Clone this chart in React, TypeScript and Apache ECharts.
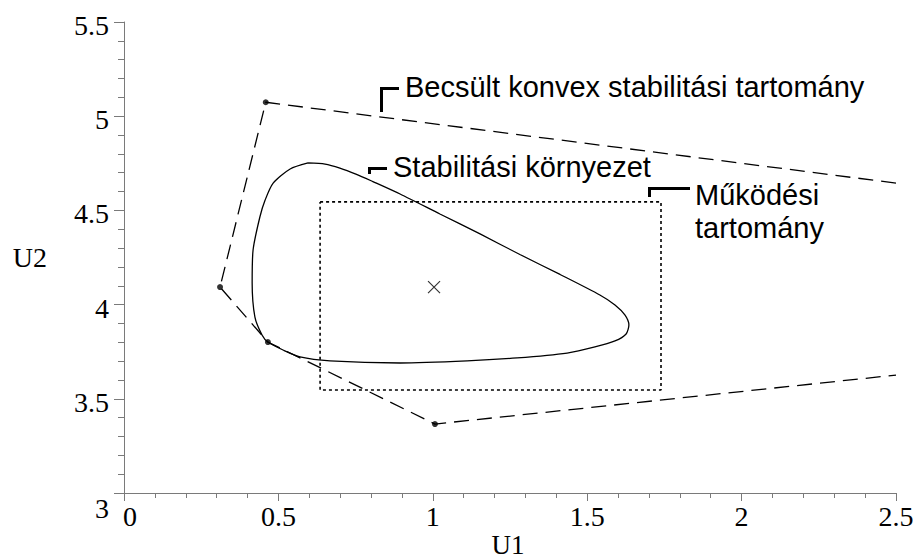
import React, { useEffect, useRef } from "react";
import * as echarts from "echarts";

const xTicks = { min: 0, max: 2.5, interval: 0.5 };
const yTicks = { min: 3, max: 5.5, interval: 0.5 };
const xTitle = "U1";
const yTitle = "U2";

// Estimated convex stability region (dashed polygon)
const hullLine: [number, number][] = [
  [2.5, 4.645],
  [0.459, 5.074],
  [0.311, 4.093],
  [0.466, 3.801],
  [1.007, 3.366],
  [2.5, 3.626],
];
const hullVertices: [number, number][] = [
  [0.459, 5.074],
  [0.311, 4.093],
  [0.466, 3.801],
  [1.007, 3.366],
];

// Stability neighbourhood (closed curve)
const stabilityCurve: [number, number][] = [
  [0.596, 4.752],
  [0.651, 4.746],
  [0.699, 4.725],
  [0.751, 4.693],
  [0.806, 4.653],
  [0.894, 4.587],
  [1.023, 4.481],
  [1.153, 4.375],
  [1.282, 4.266],
  [1.412, 4.16],
  [1.541, 4.051],
  [1.59, 3.998],
  [1.622, 3.945],
  [1.635, 3.892],
  [1.626, 3.844],
  [1.59, 3.807],
  [1.525, 3.775],
  [1.435, 3.743],
  [1.273, 3.717],
  [1.111, 3.701],
  [0.894, 3.69],
  [0.667, 3.701],
  [0.57, 3.722],
  [0.515, 3.759],
  [0.466, 3.801],
  [0.447, 3.839],
  [0.424, 3.934],
  [0.415, 4.115],
  [0.418, 4.29],
  [0.44, 4.465],
  [0.457, 4.555],
  [0.483, 4.645],
  [0.538, 4.72],
  [0.596, 4.752],
];

// Operating range (dotted rectangle)
const opRange: [number, number][] = [
  [0.635, 4.545],
  [1.739, 4.545],
  [1.739, 3.547],
  [0.635, 3.547],
  [0.635, 4.545],
];

const operatingPoint: [number, number][] = [[1.004, 4.093]];

const labelBecsult = "Becsült konvex stabilitási tartomány";
const labelStab = "Stabilitási környezet";
const labelMuk1 = "Működési";
const labelMuk2 = "tartomány";

const SERIF = "'Liberation Serif', 'Times New Roman', serif";
const SANS = "'Liberation Sans', Arial, sans-serif";
const AXIS_GRAY = "#7a7a7a";
const TICK_FS = 28;

export default function App() {
  const ref = useRef<HTMLDivElement>(null);
  useEffect(() => {
    if (!ref.current) return;
    const chart = echarts.init(ref.current, null, { renderer: "svg" });
    const annFont = { fontFamily: SANS, fontSize: 29, fill: "#000" };
    chart.setOption({
      animation: false,
      backgroundColor: "#fff",
      grid: {
        left: 124,
        right: 17,
        top: 22,
        bottom: 67,
        containLabel: false,
        outerBoundsMode: "none",
      },
      xAxis: {
        type: "value",
        min: xTicks.min,
        max: xTicks.max,
        interval: xTicks.interval,
        axisLine: { show: true, onZero: false, lineStyle: { color: AXIS_GRAY, width: 1 } },
        axisTick: { show: true, inside: false, length: 8, lineStyle: { color: AXIS_GRAY } },
        minorTick: { show: true, splitNumber: 5, length: 5, lineStyle: { color: AXIS_GRAY } },
        splitLine: { show: false },
        axisLabel: {
          margin: 9,
          fontFamily: SERIF,
          fontSize: TICK_FS,
          color: "#000",
          formatter: (v: number) => (v === 0 ? "{z|0}" : String(v)),
          rich: { z: { fontFamily: SERIF, fontSize: TICK_FS, color: "#000", padding: [0, 0, 0, 12] } },
        },
      },
      yAxis: {
        type: "value",
        min: yTicks.min,
        max: yTicks.max,
        interval: yTicks.interval,
        name: yTitle,
        nameLocation: "middle",
        nameRotate: 0,
        nameGap: 77,
        nameTextStyle: { fontFamily: SERIF, fontSize: TICK_FS, color: "#000", padding: [8, 0, 0, 0] },
        axisLine: { show: true, onZero: false, lineStyle: { color: AXIS_GRAY, width: 1 } },
        axisTick: { show: true, inside: false, length: 10, lineStyle: { color: AXIS_GRAY } },
        minorTick: { show: true, splitNumber: 5, length: 6, lineStyle: { color: AXIS_GRAY } },
        splitLine: { show: false },
        axisLabel: {
          margin: 15,
          fontFamily: SERIF,
          fontSize: TICK_FS,
          color: "#000",
          formatter: (v: number) => (v === 3 ? "{o|3}" : "{a|" + String(v) + "}"),
          rich: {
            a: { fontFamily: SERIF, fontSize: TICK_FS, color: "#000", padding: [7, 0, 0, 0] },
            o: { fontFamily: SERIF, fontSize: TICK_FS, color: "#000", padding: [30, 0, 0, 0] },
          },
        },
      },
      series: [
        {
          type: "line",
          data: hullLine,
          symbol: "none",
          lineStyle: { color: "#000", width: 1.3, type: [15, 8] },
          z: 2,
        },
        {
          type: "scatter",
          data: hullVertices,
          symbol: "circle",
          symbolSize: 6,
          itemStyle: { color: "#000" },
          z: 5,
        },
        {
          type: "line",
          data: stabilityCurve,
          symbol: "none",
          smooth: 0.25,
          lineStyle: { color: "#000", width: 1.3, type: "solid" },
          z: 3,
        },
        {
          type: "line",
          data: opRange,
          symbol: "none",
          lineStyle: { color: "#000", width: 1.6, type: [3, 3] },
          z: 3,
        },
        {
          type: "scatter",
          data: operatingPoint,
          symbol: "path://M0,0L10,10M10,0L0,10",
          symbolSize: 12,
          itemStyle: { color: "none", borderColor: "#000", borderWidth: 1.2 },
          z: 5,
        },
      ],
      graphic: [
        {
          type: "text",
          x: 508,
          y: 545,
          style: {
            text: xTitle,
            fontFamily: SERIF,
            fontSize: 27,
            fill: "#000",
            align: "center",
            verticalAlign: "middle",
          },
        },
        {
          type: "polyline",
          shape: { points: [[399, 88.5], [381.5, 88.5], [381.5, 112]] },
          style: { stroke: "#000", lineWidth: 3, fill: null },
        },
        {
          type: "text",
          x: 405,
          y: 87,
          style: { text: labelBecsult, ...annFont, align: "left", verticalAlign: "middle" },
        },
        {
          type: "polyline",
          shape: { points: [[387, 168.5], [369.5, 168.5], [369.5, 174]] },
          style: { stroke: "#000", lineWidth: 3, fill: null },
        },
        {
          type: "text",
          x: 393,
          y: 166.5,
          style: { text: labelStab, ...annFont, align: "left", verticalAlign: "middle" },
        },
        {
          type: "polyline",
          shape: { points: [[690, 188.5], [649.5, 188.5], [649.5, 197]] },
          style: { stroke: "#000", lineWidth: 3, fill: null },
        },
        {
          type: "text",
          x: 695,
          y: 195,
          style: { text: labelMuk1, ...annFont, align: "left", verticalAlign: "middle" },
        },
        {
          type: "text",
          x: 695,
          y: 228,
          style: { text: labelMuk2, ...annFont, align: "left", verticalAlign: "middle" },
        },
      ],
    });
    return () => chart.dispose();
  }, []);
  return (
    <div
      ref={ref}
      style={{ position: "fixed", left: 0, top: 0, width: 913, height: 560, background: "#fff" }}
    />
  );
}
